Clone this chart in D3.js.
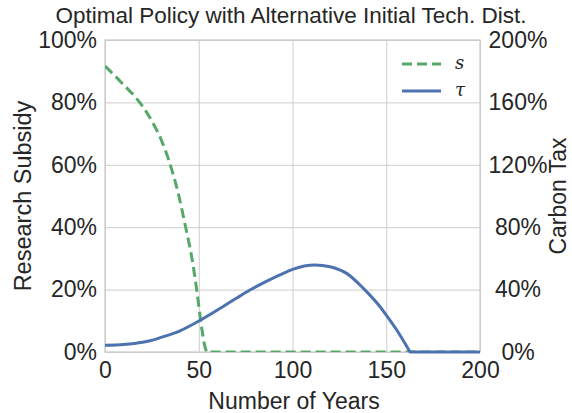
<!DOCTYPE html>
<html><head><meta charset="utf-8">
<script src="https://cdn.jsdelivr.net/npm/d3@7"></script>
<style>
body{margin:0;background:#fff}
svg text{font-family:"Liberation Sans",Arial,sans-serif;fill:#262626}
</style>
</head><body>
<svg id="c" width="572" height="413"></svg>
<script>
// ---- data ----
const sYears  = [0, 5, 10, 15, 20, 25, 30, 34, 39, 43, 46.2, 48.9, 51.2, 53.3, 54.2];
const sValues = [91.6, 88.7, 85.6, 82.5, 78.8, 74.0, 68.0, 61.5, 51.0, 40.0, 30.6, 20.0, 9.3, 1.7, 0];
const sTailYears = [54.2, 200];
const sTailValues = [0, 0];
const tauYears  = [0, 10, 20, 24, 30, 40, 50, 60, 70, 77.3, 85, 93.3, 100, 112, 120, 128.9, 137.8, 146.7, 150, 155.6, 162.7];
const tauValues = [4.3, 4.8, 6.2, 7.2, 9.4, 13.6, 19.8, 26.9, 34.4, 39.7, 44.6, 49.4, 53.0, 55.8, 54.7, 50.4, 40.8, 29.0, 23.7, 14.1, 0];
const tauTailYears = [162.7, 200];
const tauTailValues = [0, 0];
const xTicks = [0, 50, 100, 150, 200];
const leftTicks = [0, 20, 40, 60, 80, 100];
const rightTicks = [0, 40, 80, 120, 160, 200];
const seriesNames = ["s", "τ"];
const colors = ["#55A868", "#4C72B0"];
const title = "Optimal Policy with Alternative Initial Tech. Dist.";
const xLabel = "Number of Years";
const leftLabel = "Research Subsidy";
const rightLabel = "Carbon Tax";

// ---- layout ----
const L = 105, R = 480, T = 40, B = 352;
const FONT = '"Liberation Sans",Arial,sans-serif';
const svg = d3.select("#c");
const x = d3.scaleLinear().domain([0, 200]).range([L, R]);
const yL = d3.scaleLinear().domain([0, 100]).range([B, T]);
const yR = d3.scaleLinear().domain([0, 200]).range([B, T]);

// grid
const grid = svg.append("g");
grid.append("g").attr("transform", `translate(0,${B})`)
  .call(d3.axisBottom(x).tickValues(xTicks).tickSize(-(B - T)).tickFormat(""))
  .call(g => g.select(".domain").remove());
grid.append("g").attr("transform", `translate(${L},0)`)
  .call(d3.axisLeft(yL).tickValues(leftTicks).tickSize(-(R - L)).tickFormat(""))
  .call(g => g.select(".domain").remove());
grid.selectAll("line").attr("stroke", "#cccccc").attr("stroke-width", 1);

// spines
svg.append("rect").attr("x", L).attr("y", T).attr("width", R - L).attr("height", B - T)
  .attr("fill", "none").attr("stroke", "#cccccc").attr("stroke-width", 1.25);

// tick labels via axes
const fs = 23;
const ax = svg.append("g").attr("transform", `translate(0,${B})`)
  .call(d3.axisBottom(x).tickValues(xTicks).tickSize(0).tickPadding(10).tickFormat(d3.format("d")));
const al = svg.append("g").attr("transform", `translate(${L},0)`)
  .call(d3.axisLeft(yL).tickValues(leftTicks).tickSize(0).tickPadding(8).tickFormat(d => d + "%"));
const ar = svg.append("g").attr("transform", `translate(${R},0)`)
  .call(d3.axisRight(yR).tickValues(rightTicks).tickSize(0).tickPadding(38).tickFormat(d => d + "%"));
ar.selectAll("text").attr("text-anchor", "middle");
[ax, al, ar].forEach(g => {
  g.select(".domain").remove();
  g.selectAll("text").attr("font-size", fs).style("font-family", FONT).attr("fill", "#262626");
});

// lines
svg.append("clipPath").attr("id", "clip").append("rect")
  .attr("x", L).attr("y", T).attr("width", R - L).attr("height", B - T);

const zip = (a, b) => a.map((t, i) => [t, b[i]]);
const curveL = d3.line().x(d => x(d[0])).y(d => yL(d[1])).curve(d3.curveMonotoneX);
const flatL = d3.line().x(d => x(d[0])).y(d => yL(d[1]));
const curveR = d3.line().x(d => x(d[0])).y(d => yR(d[1])).curve(d3.curveMonotoneX);
const flatR = d3.line().x(d => x(d[0])).y(d => yR(d[1]));

const sPath = curveL(zip(sYears, sValues)) + flatL(zip(sTailYears, sTailValues)).replace(/^M/, "L");
const tauPath = curveR(zip(tauYears, tauValues)) + flatR(zip(tauTailYears, tauTailValues)).replace(/^M/, "L");

svg.append("path").attr("d", sPath)
  .attr("clip-path", "url(#clip)")
  .attr("fill", "none").attr("stroke", colors[0]).attr("stroke-width", 3)
  .attr("stroke-dasharray", "10,5");
svg.append("path").attr("d", tauPath)
  .attr("fill", "none").attr("stroke", colors[1]).attr("stroke-width", 3)
  .attr("stroke-linejoin", "round");

// legend
const lg = svg.append("g");
[0, 1].forEach(i => {
  const yy = 64 + i * 27;
  lg.append("line").attr("x1", 402).attr("x2", 441).attr("y1", yy).attr("y2", yy)
    .attr("stroke", colors[i]).attr("stroke-width", 3)
    .attr("stroke-dasharray", i === 0 ? "10,5" : null);
  lg.append("text").attr("x", 455).attr("y", yy + 5).text(seriesNames[i])
    .attr("font-size", 18).style("font-family", '"DejaVu Serif",serif').style("font-style", "italic");
});

// titles
svg.append("text").attr("x", 291).attr("y", 23).attr("text-anchor", "middle")
  .attr("font-size", 22.5).text(title);
svg.append("text").attr("x", 294).attr("y", 409).attr("text-anchor", "middle")
  .attr("font-size", 23).text(xLabel);
svg.append("text").attr("transform", `translate(31,${(T + B) / 2}) rotate(-90)`).attr("text-anchor", "middle")
  .attr("font-size", 23.5).text(leftLabel);
svg.append("text").attr("transform", `translate(566,${(T + B) / 2}) rotate(-90)`).attr("text-anchor", "middle")
  .attr("font-size", 23).text(rightLabel);
</script>
</body></html>
